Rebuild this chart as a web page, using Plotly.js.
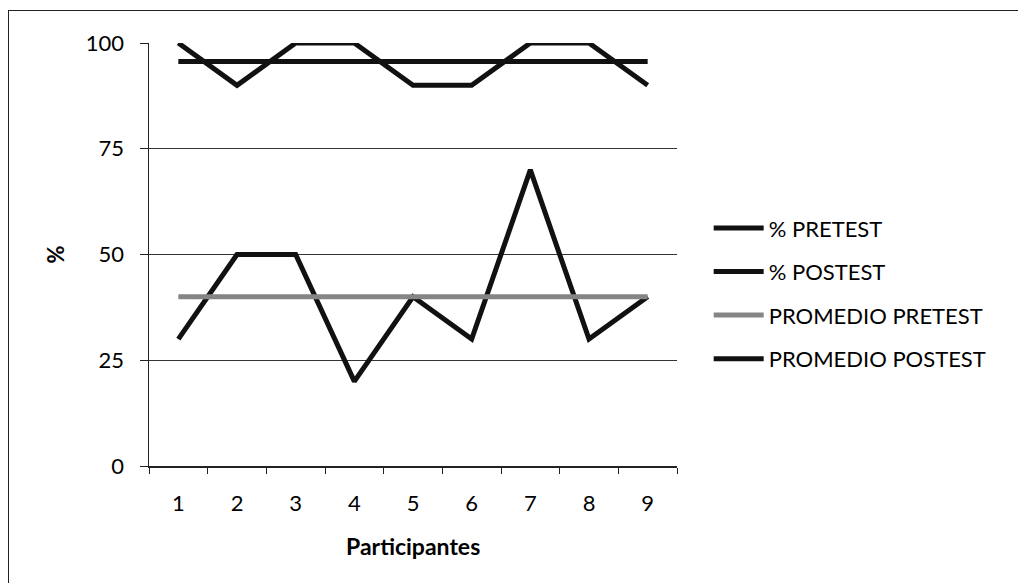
<!DOCTYPE html>
<html>
<head>
<meta charset="utf-8">
<script src="https://cdn.plot.ly/plotly-3.0.1.min.js"></script>
<style>
html,body{margin:0;padding:0;background:#fff;}
#wrap{position:relative;width:1018px;height:583px;}
#frame{position:absolute;left:8px;top:10px;width:1010px;height:573px;border-left:1.5px solid #222;border-top:1.5px solid #222;pointer-events:none;}
#chart{position:absolute;left:0;top:0;width:1018px;height:583px;}
</style>
</head>
<body>
<div id="wrap"><div id="chart"></div><div id="frame"></div></div>
<script>
var participantes = ['1','2','3','4','5','6','7','8','9'];
var pretest = [30, 50, 50, 20, 40, 30, 70, 30, 40];
var postest = [100, 90, 100, 100, 90, 90, 100, 100, 90];
var promedioPretest = [40, 40, 40, 40, 40, 40, 40, 40, 40];
var promedioPostest = [95.6, 95.6, 95.6, 95.6, 95.6, 95.6, 95.6, 95.6, 95.6];
var seriesNames = ['% PRETEST', '% POSTEST', 'PROMEDIO PRETEST', 'PROMEDIO POSTEST'];
var yTicks = [0, 25, 50, 75, 100];
var xTitle = 'Participantes';

var font = 'Lato, "Open Sans", sans-serif';
function tr(y, name, color, g) {
  return {x: participantes, y: y, name: name, type: 'scatter', mode: 'lines',
    legendgroup: g, line: {color: color, width: 5}, hoverinfo: 'none'};
}
var data = [
  tr(pretest, seriesNames[0], '#111', 'a'),
  tr(postest, seriesNames[1], '#111', 'b'),
  tr(promedioPretest, seriesNames[2], '#858585', 'c'),
  tr(promedioPostest, seriesNames[3], '#111', 'd')
];
var layout = {
  width: 1018, height: 583,
  margin: {l: 149, r: 341, t: 43, b: 117},
  paper_bgcolor: '#fff', plot_bgcolor: '#fff',
  font: {family: font, size: 22, color: '#000'},
  showlegend: true,
  legend: {x: 1.06, y: 0.612, xanchor: 'left', yanchor: 'top',
    font: {family: font, size: 22, color: '#000'}, tracegroupgap: 12,
    itemwidth: 50, traceorder: 'grouped'},
  xaxis: {type: 'category', tickson: 'boundaries', ticks: 'outside', ticklen: 6,
    range: [-0.5, 8.5],
    tickcolor: '#222', showline: true, linecolor: '#222', linewidth: 1.5,
    showgrid: false, zeroline: false, tickfont: {size: 22}, ticklabelstandoff: 17},
  yaxis: {range: [0, 100], tickvals: yTicks, ticks: 'outside', ticklen: 8,
    tickcolor: '#222', showline: true, linecolor: '#222', linewidth: 1.5,
    showgrid: true, gridcolor: '#333', gridwidth: 1, zeroline: false,
    tickfont: {size: 22}, ticklabelstandoff: 11,
    title: {text: '<b>%</b>', font: {size: 22}, standoff: 15}},
  annotations: [{text: '<b>' + xTitle + '</b>', xref: 'paper', yref: 'paper',
    x: 0.5, y: -0.19, xanchor: 'center', yanchor: 'middle', showarrow: false,
    font: {family: font, size: 23, color: '#000'}}]
};
Plotly.newPlot('chart', data, layout, {staticPlot: true});
</script>
</body>
</html>
